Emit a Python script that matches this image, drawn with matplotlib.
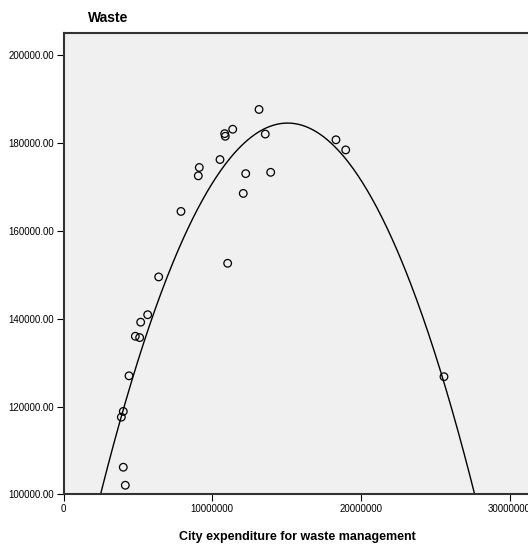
import numpy as np
import matplotlib
matplotlib.use('Agg')
from matplotlib import pyplot as plt

plt.rcParams['font.family'] = ['Liberation Sans', 'DejaVu Sans']

# city expenditure for waste management
expenditure = [13150000, 13570000, 11380000, 10840000, 10880000, 10525000,
               9132000, 9065000, 12253000, 12090000, 13934000, 7900000,
               11040000, 6400000, 18325000, 18980000, 5660000, 5190000,
               4830000, 5120000, 4405000, 4020000, 3890000, 4020000,
               4156000, 25590000]
# waste
waste = [187600, 182000, 183100, 182100, 181500, 176200,
         174400, 172500, 173000, 168500, 173300, 164400,
         152600, 149500, 180700, 178400, 140900, 139200,
         136000, 135700, 127000, 118900, 117600, 106200,
         102100, 126800]

xticks = [0, 10000000, 20000000, 30000000]
yticks = [100000, 120000, 140000, 160000, 180000, 200000]

x = np.array(expenditure, dtype=float)
y = np.array(waste, dtype=float)
coef = np.polyfit(x, y, 2)
xs = np.linspace(0, 32000000, 400)
ys = np.polyval(coef, xs)

fig = plt.figure(figsize=(5.28, 5.47), dpi=100)
ax = fig.add_axes([0.1203, 0.096, 0.887, 0.8437])
ax.set_facecolor('#f0f0f0')

ax.plot(xs, ys, color='black', lw=1.0)
ax.scatter(x, y, s=30, facecolors='none', edgecolors='black', linewidths=0.9, zorder=3)

ax.set_xlim(0, 31500000)
ax.set_ylim(100000, 205000)
ax.set_xticks(xticks)
ax.set_xticklabels([str(t) for t in xticks], fontsize=7)
ax.set_yticks(yticks)
ax.set_yticklabels(['%.2f' % t for t in yticks], fontsize=7)
ax.tick_params(direction='out', length=5, width=0.8, pad=2)

for s in ax.spines.values():
    s.set_color('#333333')
    s.set_linewidth(1.5)

ax.set_xlabel('City expenditure for waste management', fontsize=9,
              fontweight='bold', labelpad=12)
fig.text(88 / 528, 1 - 18 / 547, 'Waste', fontsize=10, fontweight='bold',
         ha='left', va='center')

fig.savefig('out.png', dpi=100)
